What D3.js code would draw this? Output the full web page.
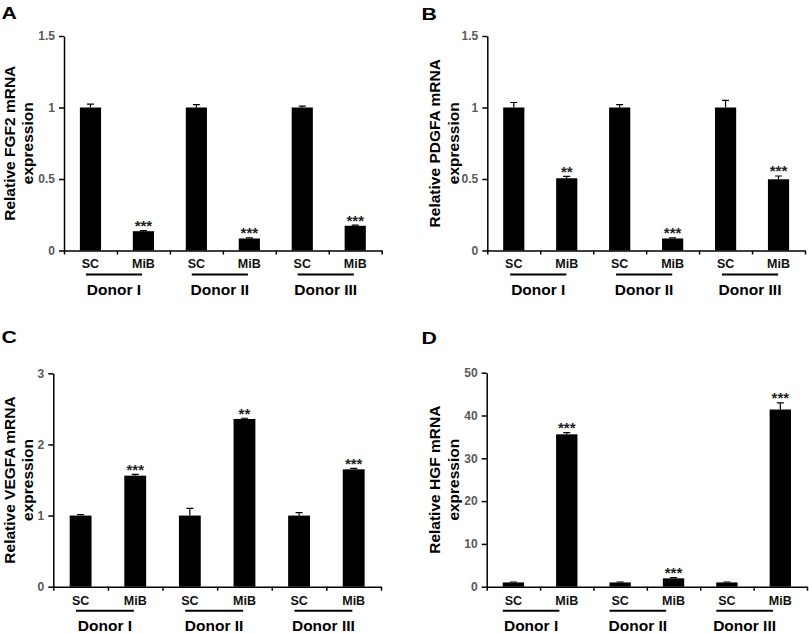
<!DOCTYPE html>
<html>
<head>
<meta charset="utf-8">
<script src="https://cdn.jsdelivr.net/npm/d3@7"></script>
<style>
  html, body { margin: 0; padding: 0; background: #fff; }
  svg { display: block; font-family: "Liberation Sans", Arial, sans-serif; }
</style>
</head>
<body>
<svg id="chart" width="809" height="633"></svg>
<script>
// Shared categories
const donors = ["Donor I", "Donor II", "Donor III"];
const conditions = ["SC", "MiB"];

// Panel A - FGF2
const fgf2Values = [1, 0.135, 1, 0.084, 1, 0.173];
const fgf2Errors = [0.023, 0.005, 0.02, 0.004, 0.01, 0.005];
const fgf2Stars = ["", "***", "", "***", "", "***"];
const fgf2Ticks = [0, 0.5, 1, 1.5];

// Panel B - PDGFA
const pdgfaValues = [1, 0.505, 1, 0.084, 1, 0.498];
const pdgfaErrors = [0.035, 0.014, 0.02, 0.004, 0.05, 0.023];
const pdgfaStars = ["", "**", "", "***", "", "***"];
const pdgfaTicks = [0, 0.5, 1, 1.5];

// Panel C - VEGFA
const vegfaValues = [1, 1.561, 1, 2.358, 1, 1.65];
const vegfaErrors = [0.014, 0.019, 0.1, 0.01, 0.04, 0.014];
const vegfaStars = ["", "***", "", "**", "", "***"];
const vegfaTicks = [0, 1, 2, 3];

// Panel D - HGF
const hgfValues = [1, 35.6, 1, 1.95, 1, 41.4];
const hgfErrors = [0.1, 0.4, 0.1, 0.15, 0.1, 1.56];
const hgfStars = ["", "***", "", "***", "", "***"];
const hgfTicks = [0, 10, 20, 30, 40, 50];

// Layout of each panel (positions kept here, not in the data)
const panels = [
    { letter: "A", gene: "FGF2", values: fgf2Values, errors: fgf2Errors, stars: fgf2Stars, ticks: fgf2Ticks,
      left: 0, letterX: 1.5, letterY: 19, x0: 64, x1: 381.7, yTop: 36, yBot: 250.5, shift: -3 },
    { letter: "B", gene: "PDGFA", values: pdgfaValues, errors: pdgfaErrors, stars: pdgfaStars, ticks: pdgfaTicks,
      left: 425.5, letterX: 421.5, letterY: 20, x0: 487.3, x1: 805, yTop: 36, yBot: 250.5, shift: -2 },
    { letter: "C", gene: "VEGFA", values: vegfaValues, errors: vegfaErrors, stars: vegfaStars, ticks: vegfaTicks,
      left: 0, letterX: 1.5, letterY: 342.5, x0: 53.3, x1: 381, yTop: 373.3, yBot: 586.7, shift: -3 },
    { letter: "D", gene: "HGF", values: hgfValues, errors: hgfErrors, stars: hgfStars, ticks: hgfTicks,
      left: 425.5, letterX: 421.5, letterY: 343.5, x0: 486.7, x1: 807, yTop: 372.7, yBot: 586.7, shift: -9 }
];

const svg = d3.select("#chart");

panels.forEach(p => {
    const g = svg.append("g");
    const n = p.values.length;
    const idx = d3.range(n);
    const maxTick = d3.max(p.ticks);

    const x = d3.scaleBand().domain(idx).range([p.x0, p.x1]).paddingInner(0.6).paddingOuter(0.3);
    const xEdge = d3.scaleLinear().domain([0, n]).range([p.x0, p.x1]);
    const y = d3.scaleLinear().domain([0, maxTick]).range([p.yBot, p.yTop]);
    const step = x.step();

    // Panel letter
    g.append("text")
        .attr("transform", `translate(${p.letterX},${p.letterY}) scale(1.25,1)`)
        .attr("font-size", 17)
        .attr("font-weight", "bold")
        .attr("fill", "#000")
        .text(p.letter);

    // Y axis title (two lines)
    const cy = (p.yTop + p.yBot) / 2;
    [`Relative ${p.gene} mRNA`, "expression"].forEach((line, i) => {
        g.append("text")
            .attr("transform", `translate(${p.left + 14.5 + i * 18.5},${cy}) rotate(-90)`)
            .attr("text-anchor", "middle")
            .attr("font-size", 15.5)
            .attr("font-weight", "bold")
            .attr("fill", "#000")
            .text(line);
    });

    // Y axis
    const yAxis = g.append("g")
        .attr("transform", `translate(${p.x0},0)`)
        .call(d3.axisLeft(y).tickValues(p.ticks).tickFormat(d => String(d)).tickSize(5).tickSizeOuter(0).tickPadding(4));
    yAxis.select(".domain").attr("stroke", "#000").attr("stroke-width", 1.5);
    yAxis.selectAll(".tick line").attr("stroke", "#000").attr("stroke-width", 1.5);
    yAxis.selectAll(".tick text")
        .attr("font-family", "Liberation Sans, Arial, sans-serif")
        .attr("font-size", 12).attr("font-weight", "bold").attr("fill", "#595959");

    // Bars
    g.selectAll(".bar").data(idx).join("rect")
        .attr("x", i => x(i))
        .attr("width", x.bandwidth())
        .attr("y", i => y(p.values[i]))
        .attr("height", i => y(0) - y(p.values[i]))
        .attr("fill", "#000");

    // Error bars (upper only)
    const capW = 3.5;
    g.selectAll(".err").data(idx).join("path")
        .attr("d", i => {
            const cx = x(i) + x.bandwidth() / 2;
            const yt = y(p.values[i] + p.errors[i]);
            return `M${cx},${y(p.values[i])}V${yt}M${cx - capW},${yt}H${cx + capW}`;
        })
        .attr("stroke", "#000").attr("stroke-width", 1.2).attr("fill", "none");

    // Significance stars
    g.selectAll(".star").data(idx.filter(i => p.stars[i])).join("text")
        .attr("x", i => x(i) + x.bandwidth() / 2)
        .attr("y", i => y(p.values[i] + p.errors[i]) + 0.5)
        .attr("text-anchor", "middle")
        .attr("font-size", 15)
        .attr("font-weight", "bold")
        .attr("fill", "#222")
        .text(i => p.stars[i]);

    // X axis line with boundary ticks
    const xAxis = g.append("g")
        .attr("transform", `translate(0,${p.yBot})`)
        .call(d3.axisBottom(xEdge).tickValues(d3.range(n + 1)).tickFormat("").tickSize(4).tickSizeOuter(0));
    xAxis.select(".domain").attr("stroke", "#000").attr("stroke-width", 1.5);
    xAxis.selectAll(".tick line").attr("stroke", "#000").attr("stroke-width", 1.5);

    // Condition labels under each bar
    const labelAxis = g.append("g")
        .attr("transform", `translate(0,${p.yBot})`)
        .call(d3.axisBottom(x).tickSize(0).tickPadding(9).tickFormat(i => conditions[i % conditions.length]));
    labelAxis.select(".domain").remove();
    labelAxis.selectAll(".tick text")
        .attr("font-family", "Liberation Sans, Arial, sans-serif")
        .attr("font-size", 12.5).attr("font-weight", "bold").attr("fill", "#111");

    // Donor group underline and label
    donors.forEach((donor, k) => {
        const gc = xEdge(k * 2 + 1) + p.shift;
        g.append("line")
            .attr("x1", gc - step * 0.53).attr("x2", gc + step * 0.53)
            .attr("y1", p.yBot + 24).attr("y2", p.yBot + 24)
            .attr("stroke", "#000").attr("stroke-width", 2);
        g.append("text")
            .attr("x", gc).attr("y", p.yBot + 44)
            .attr("text-anchor", "middle")
            .attr("font-size", 15.5).attr("font-weight", "bold").attr("fill", "#000")
            .text(donor);
    });
});
</script>
</body>
</html>
